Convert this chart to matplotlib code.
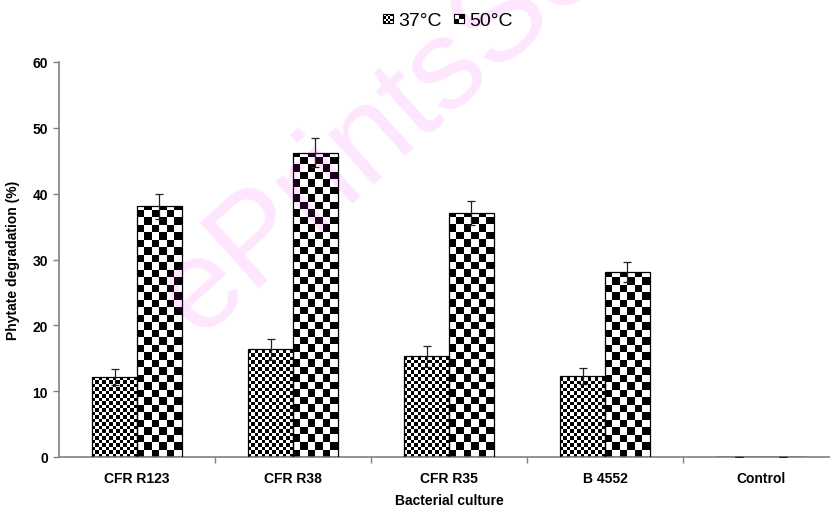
import numpy as np
import matplotlib
matplotlib.use("Agg")
import matplotlib.pyplot as plt
from matplotlib.patches import Rectangle, Patch
from matplotlib.legend_handler import HandlerBase

plt.rcParams['font.family'] = ['Liberation Sans', 'DejaVu Sans']

categories = ["CFR R123", "CFR R38", "CFR R35", "B 4552", "Control"]
series_names = ["37°C", "50°C"]
deg_37 = [12.2, 16.4, 15.3, 12.3, 0.0]
err_37 = [1.2, 1.6, 1.6, 1.2, 0.0]
deg_50 = [38.1, 46.2, 37.1, 28.1, 0.0]
err_50 = [1.9, 2.2, 1.8, 1.5, 0.0]
y_ticks = [0, 10, 20, 30, 40, 50, 60]

W, H, DPI = 830, 510, 100
fig = plt.figure(figsize=(W / DPI, H / DPI), dpi=DPI)
ax_left, ax_right, ax_bottom, ax_top = 59 / W, 839 / W, 1 - 458 / H, 1 - 63 / H
ax = fig.add_axes([ax_left, ax_bottom, ax_right - ax_left, ax_top - ax_bottom])

n = len(categories)
x = np.arange(n)
bw = 0.288
xlim = (-0.5, n - 0.5)
ylim = (0, 60)
ax.set_xlim(*xlim)
ax.set_ylim(*ylim)

ppx = (ax_right - ax_left) * W / (xlim[1] - xlim[0])
ppy = (ax_top - ax_bottom) * H / (ylim[1] - ylim[0])


def checker_fill(rect, sq_px):
    w = rect.get_width()
    h = rect.get_height()
    if h <= 0:
        return
    w_px = w * ppx
    ncol = max(1, int(round(w_px / sq_px)))
    sq_real = w_px / ncol
    sq_y = sq_real / ppy
    nrow = int(np.ceil(h / sq_y))
    ii, jj = np.indices((nrow, ncol))
    arr = ((ii + jj) % 2).astype(float)
    x0 = rect.get_x()
    im = ax.imshow(arr, cmap='gray', vmin=0, vmax=1, origin='lower',
                   extent=(x0, x0 + w, 0, nrow * sq_y), interpolation='nearest',
                   aspect='auto', zorder=2)
    im.set_clip_path(rect)


bars37 = ax.bar(x - bw / 2, deg_37, bw, facecolor='none', edgecolor='black',
                linewidth=0.9, zorder=3)
bars50 = ax.bar(x + bw / 2, deg_50, bw, facecolor='none', edgecolor='black',
                linewidth=0.9, zorder=3)
for r in bars37:
    checker_fill(r, 3.46)
for r in bars50:
    checker_fill(r, 7.5)

ax.errorbar(x - bw / 2, deg_37, yerr=err_37, fmt='none', ecolor='#222222',
            elinewidth=0.9, capsize=3, capthick=0.9, zorder=4)
ax.errorbar(x + bw / 2, deg_50, yerr=err_50, fmt='none', ecolor='#222222',
            elinewidth=0.9, capsize=3, capthick=0.9, zorder=4)

ax.set_xlim(*xlim)
ax.set_ylim(*ylim)

for s in ['top', 'right']:
    ax.spines[s].set_visible(False)
for s in ['left', 'bottom']:
    ax.spines[s].set_color('#808080')
    ax.spines[s].set_linewidth(1.2)

ax.set_yticks(y_ticks)
ax.set_yticklabels([str(v) for v in y_ticks], fontsize=10, fontweight='bold')
ax.tick_params(axis='y', direction='out', length=4, width=1, color='#808080', pad=4)

ax.set_xticks(np.arange(n - 1) + 0.5)
ax.set_xticklabels([])
ax.tick_params(axis='x', which='major', direction='out', length=4, width=1, color='#808080')
ax.set_xticks(x, minor=True)
ax.set_xticklabels(categories, minor=True, fontsize=10, fontweight='bold')
ax.tick_params(axis='x', which='minor', length=0, pad=10)

ax.set_ylabel("Phytate degradation (%)", fontsize=10, fontweight='bold', labelpad=9)
ax.set_xlabel("Bacterial culture", fontsize=10, fontweight='bold', labelpad=6)


class CheckerHandler(HandlerBase):
    def __init__(self, ncell):
        super().__init__()
        self.ncell = ncell

    def create_artists(self, legend, orig_handle, xdescent, ydescent, width,
                       height, fontsize, trans):
        s = min(width, height)
        x0 = -xdescent + (width - s) / 2
        y0 = -ydescent + (height - s) / 2
        arts = [Rectangle((x0, y0), s, s, facecolor='white', edgecolor='black',
                          linewidth=0.8, transform=trans)]
        c = s / self.ncell
        for i in range(self.ncell):
            for j in range(self.ncell):
                if (i + j) % 2 == 0:
                    arts.append(Rectangle((x0 + i * c, y0 + j * c), c, c,
                                          facecolor='black', edgecolor='none',
                                          transform=trans))
        return arts


h37 = Patch(label=series_names[0])
h50 = Patch(label=series_names[1])
leg = fig.legend(handles=[h37, h50], labels=series_names, ncol=2, frameon=False,
                 loc='center', bbox_to_anchor=(448 / W, 1 - 22 / H), fontsize=14,
                 handlelength=0.5, handleheight=0.5, handletextpad=0.3,
                 columnspacing=0.6,
                 handler_map={h37: CheckerHandler(4), h50: CheckerHandler(2)})
leg.set_zorder(20)

fig.text(198 / W, 1 - 338 / H, "ePrintsSoton", rotation=42, rotation_mode='anchor',
         ha='left', va='baseline', fontsize=92, color='magenta', alpha=0.10,
         family='Liberation Sans', zorder=10)

fig.savefig("out.png", dpi=DPI)
